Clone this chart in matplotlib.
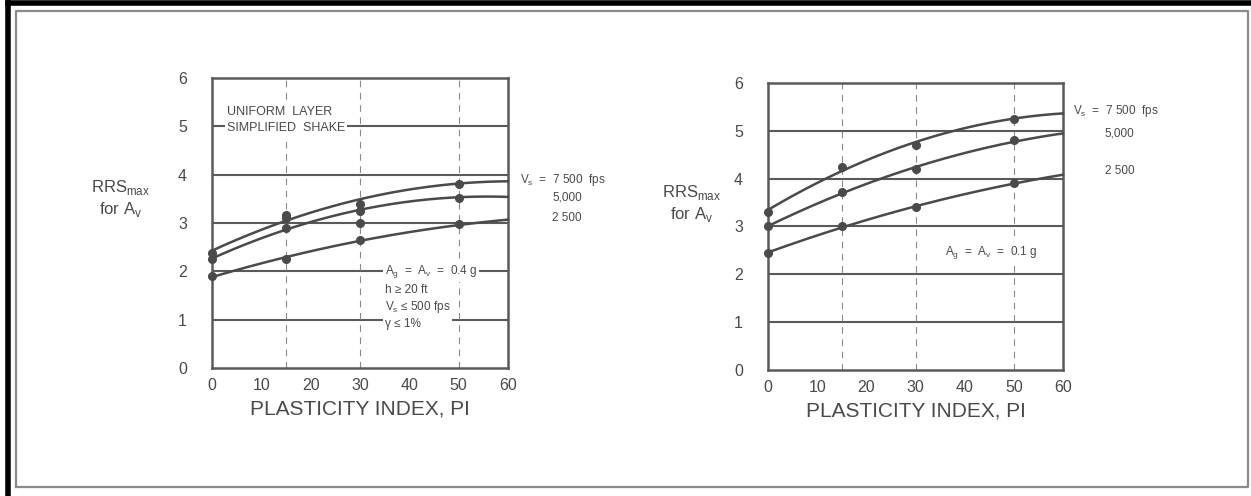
import numpy as np
import matplotlib

matplotlib.use("Agg")
import matplotlib.pyplot as plt
from matplotlib.lines import Line2D

plt.rcParams["font.family"] = ["Liberation Sans", "DejaVu Sans"]

INK = "#4a4a4a"
GRID = "#5a5a5a"

# plasticity index where the points were plotted
PI_PTS = [0, 15, 30, 50]
# curve end values at PI = 60 (no marker there)
PI_END = 60

# left panel: Ag = Av = 0.4 g
left_7500 = [2.38, 3.17, 3.40, 3.81]
left_5000 = [2.25, 2.90, 3.25, 3.52]
left_2500 = [1.90, 2.25, 2.65, 2.98]
left_end = [3.88, 3.55, 3.05]
left_extra_x = [30, 15]
left_extra_y = [3.00, 3.10]

# right panel: Ag = Av = 0.1 g
right_7500 = [3.31, 4.25, 4.70, 5.24]
right_5000 = [3.00, 3.72, 4.20, 4.80]
right_2500 = [2.45, 3.00, 3.40, 3.90]
right_end = [5.38, 4.93, 4.08]

vs_labels = ["V$_\\mathregular{s}$  =  7 500  fps", "5,000", "2 500"]


def panel(ax, series, ends):
    ax.set_xlim(0, 60)
    ax.set_ylim(0, 6)
    ax.set_xticks(range(0, 61, 10))
    ax.set_yticks(range(0, 7))
    ax.tick_params(length=0, labelsize=11.5, labelcolor=INK)
    ax.tick_params(axis="y", pad=18)
    ax.tick_params(axis="x", pad=7)
    for s in ax.spines.values():
        s.set_color(GRID)
        s.set_linewidth(1.8)
    for y in range(1, 6):
        ax.axhline(y, color=GRID, lw=1.5, zorder=1)
    for x in (15, 30, 50):
        ax.axvline(x, color="#8a8a8a", lw=0.8, ls=(0, (6, 5)), zorder=1)
    xs = np.linspace(0, 60, 200)
    for ys, yend in zip(series, ends):
        fx = PI_PTS + [PI_END]
        fy = ys + [yend]
        c = np.polyfit(fx, fy, 2)
        ax.plot(xs, np.polyval(c, xs), color=INK, lw=1.8, zorder=3, clip_on=False)
        ax.plot(PI_PTS, ys, "o", color=INK, ms=5.5, zorder=4, clip_on=False)
    ax.set_xlabel("PLASTICITY INDEX, PI", fontsize=15, color=INK, labelpad=5)


fig = plt.figure(figsize=(12.51, 4.96), dpi=100)
fig.patch.set_facecolor("white")

small = dict(fontsize=8.5, color=INK, va="center")
box = dict(facecolor="white", edgecolor="none", pad=1.5)

axL = fig.add_axes([0.1695, 0.258, 0.2365, 0.585])
panel(axL, [left_7500, left_5000, left_2500], left_end)
axL.plot(left_extra_x, left_extra_y, "o", color=INK, ms=5.5, zorder=4)
axL.text(3, 5.3, "UNIFORM  LAYER", fontsize=9, color=INK, va="center", bbox=box, zorder=5)
axL.text(3, 4.96, "SIMPLIFIED  SHAKE", fontsize=9, color=INK, va="center", bbox=box, zorder=5)
axL.text(35, 2.0, "A$_\\mathregular{g}$  =  A$_\\mathregular{v}$  =  0.4 g", bbox=box,
         zorder=5, **small)
axL.text(35, 1.27, "h ≥ 20 ft\nV$_\\mathregular{s}$ ≤ 500 fps\nγ ≤ 1%", linespacing=1.3,
         bbox=box, zorder=5, **small)
for y, t in zip([3.88, 3.52, 3.10], vs_labels):
    axL.text(62.5 if t.startswith("V") else 69, y, t, clip_on=False, **small)
fig.text(0.096, 0.60, "RRS$_\\mathregular{max}$\nfor A$_\\mathregular{v}$", fontsize=12,
         color=INK, ha="center", va="center", linespacing=1.2)

axR = fig.add_axes([0.614, 0.254, 0.2357, 0.579])
panel(axR, [right_7500, right_5000, right_2500], right_end)
axR.text(36, 2.45, "A$_\\mathregular{g}$  =  A$_\\mathregular{v}$  =  0.1 g", bbox=box,
         zorder=5, **small)
for y, t in zip([5.42, 4.95, 4.15], vs_labels):
    axR.text(62 if t.startswith("V") else 68.5, y, t, clip_on=False, **small)
fig.text(0.553, 0.59, "RRS$_\\mathregular{max}$\nfor A$_\\mathregular{v}$", fontsize=12,
         color=INK, ha="center", va="center", linespacing=1.2)

# scanned page frame
fig.add_artist(Line2D([0.0064, 0.0064], [0, 0.994], color="black", lw=4))
fig.add_artist(Line2D([0.0064, 1], [0.994, 0.994], color="black", lw=4))
fig.add_artist(Line2D([0.013, 0.013, 0.998, 0.998, 0.013],
                      [0.018, 0.978, 0.978, 0.018, 0.018], color="#8a8a8a", lw=1.6))

fig.savefig("out.png", dpi=100, facecolor="white")
